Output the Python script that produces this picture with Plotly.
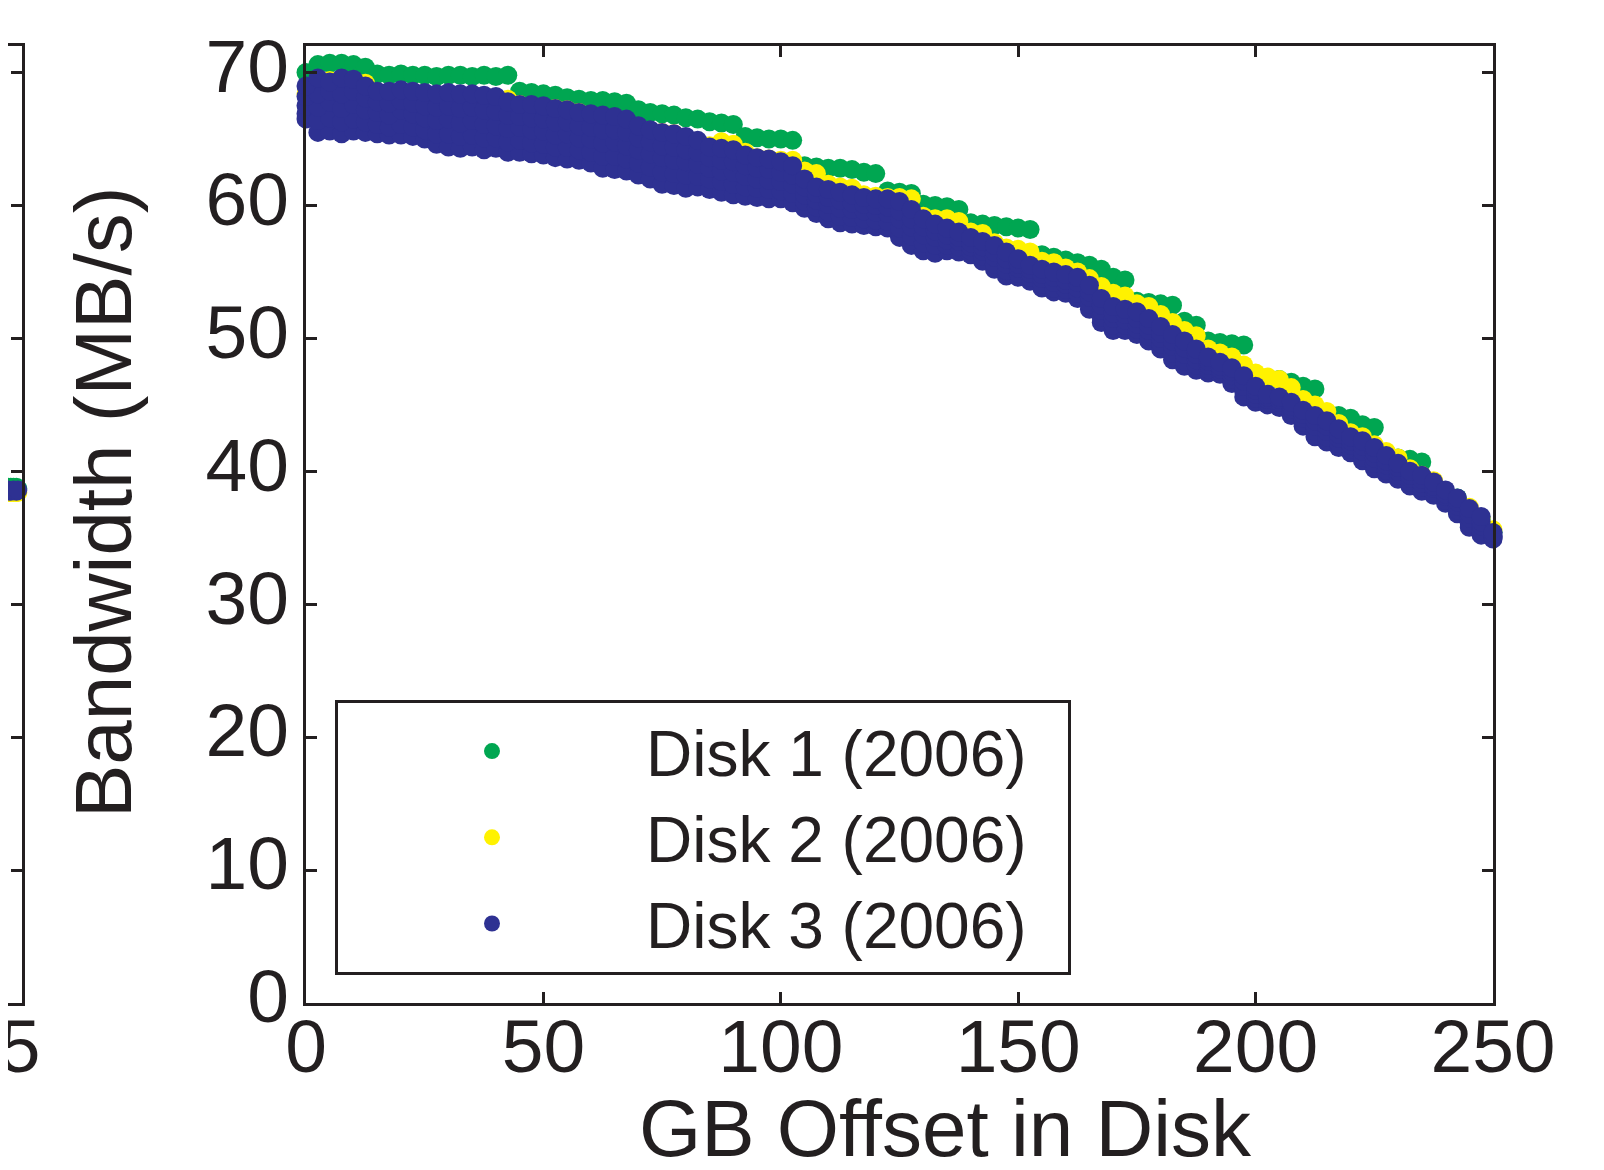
import plotly.graph_objects as go

# ---------------- data ----------------
GB_OFFSET = [
    0, 2.5, 5, 7.5, 10, 12.5, 15, 17.5, 20, 22.5,
    25, 27.5, 30, 32.5, 35, 37.5, 40, 42.5, 45, 47.5,
    50, 52.5, 55, 57.5, 60, 62.5, 65, 67.5, 70, 72.5,
    75, 77.5, 80, 82.5, 85, 87.5, 90, 92.5, 95, 97.5,
    100, 102.5, 105, 107.5, 110, 112.5, 115, 117.5, 120, 122.5,
    125, 127.5, 130, 132.5, 135, 137.5, 140, 142.5, 145, 147.5,
    150, 152.5, 155, 157.5, 160, 162.5, 165, 167.5, 170, 172.5,
    175, 177.5, 180, 182.5, 185, 187.5, 190, 192.5, 195, 197.5,
    200, 202.5, 205, 207.5, 210, 212.5, 215, 217.5, 220, 222.5,
    225, 227.5, 230, 232.5, 235, 237.5, 240, 242.5, 245, 247.5,
    250,
]

DISK1 = [
    70.0, 70.6, 70.7, 70.7, 70.6, 70.4, 69.9, 69.8, 69.9, 69.8,
    69.8, 69.7, 69.8, 69.8, 69.7, 69.8, 69.7, 69.8, 68.6, 68.5,
    68.4, 68.3, 68.1, 68.0, 67.9, 67.9, 67.8, 67.7, 67.2, 67.0,
    66.9, 66.8, 66.6, 66.5, 66.3, 66.2, 66.1, 65.2, 65.1, 65.0,
    65.0, 64.9, 63.0, 62.9, 62.8, 62.8, 62.7, 62.5, 62.4, 61.1,
    61.0, 60.9, 60.1, 60.0, 59.9, 59.7, 58.7, 58.6, 58.5, 58.4,
    58.3, 58.2, 56.3, 56.1, 55.9, 55.7, 55.5, 55.2, 54.6, 54.4,
    52.8, 52.7, 52.6, 52.5, 51.3, 51.0, 49.8, 49.7, 49.6, 49.5,
    47.2, 47.0, 46.9, 46.7, 46.4, 46.2, 44.4, 44.2, 44.0, 43.5,
    43.3, 41.2, 41.0, 40.9, 40.7, 38.5, 38.2, 38.0, 37.0, 36.4,
    35.4,
]

DISK2 = [
    68.4, 69.2, 69.4, 69.5, 69.4, 69.2, 68.5, 68.4, 68.3, 68.3,
    68.3, 68.3, 68.2, 68.3, 68.2, 68.2, 68.1, 68.0, 67.6, 67.5,
    67.4, 67.3, 67.2, 67.0, 66.8, 66.6, 66.4, 66.2, 65.8, 65.6,
    65.5, 65.4, 65.0, 64.6, 64.5, 64.8, 64.6, 64.0, 63.6, 63.5,
    63.4, 63.4, 62.6, 62.4, 61.6, 61.4, 61.3, 60.8, 60.7, 60.6,
    60.6, 60.5, 59.2, 59.0, 59.0, 58.8, 58.0, 57.9, 57.2, 56.8,
    56.7, 56.5, 55.8, 55.7, 55.3, 55.0, 54.5, 53.9, 53.4, 53.2,
    52.6, 52.4, 51.8, 51.2, 50.6, 50.2, 49.2, 48.9, 48.6, 48.0,
    47.4, 47.1, 46.9, 46.3, 45.4, 45.0, 44.5, 43.6, 42.9, 42.6,
    42.0, 41.5, 41.0, 40.2, 39.7, 39.3, 38.4, 37.8, 37.3, 36.5,
    35.6,
]

# Disk 3 forms a wide band: five rows of dots read across the cloud,
# from its upper edge down to its lower edge
DISK3_HIGH = [
    69.0, 69.6, 69.3, 69.6, 69.5, 69.0, 68.6, 68.6, 68.7, 68.6,
    68.5, 68.4, 68.5, 68.4, 68.4, 68.3, 68.2, 67.8, 67.6, 67.6,
    67.5, 67.3, 67.2, 67.0, 66.9, 66.8, 66.7, 66.5, 66.0, 65.7,
    65.5, 65.4, 65.2, 64.9, 64.4, 64.3, 64.2, 63.8, 63.6, 63.5,
    63.3, 63.0, 62.0, 61.4, 61.2, 61.0, 60.8, 60.6, 60.5, 60.5,
    60.3, 59.7, 59.0, 58.6, 58.3, 58.0, 57.6, 57.3, 57.0, 56.5,
    56.0, 55.5, 55.2, 55.0, 54.8, 54.6, 54.0, 53.0, 52.4, 52.2,
    52.0, 51.5, 50.9, 50.3, 49.8, 49.2, 48.6, 48.2, 47.8, 47.2,
    46.4, 45.8, 45.6, 45.2, 44.6, 44.2, 43.8, 43.2, 42.6, 42.3,
    41.8, 41.2, 40.6, 40.0, 39.7, 39.2, 38.6, 38.0, 37.2, 36.6,
    35.4,
]

DISK3_UPPER = [
    68.2, 68.4, 68.6, 68.4, 68.6, 68.1, 67.8, 67.7, 67.9, 67.7,
    67.5, 67.4, 67.5, 67.3, 67.4, 67.2, 67.1, 66.8, 66.7, 66.6,
    66.5, 66.3, 66.3, 66.0, 65.9, 65.7, 65.7, 65.5, 65.1, 64.8,
    64.5, 64.4, 64.2, 64.0, 63.6, 63.4, 63.3, 63.0, 62.8, 62.7,
    62.5, 62.3, 61.4, 60.9, 60.6, 60.4, 60.2, 60.1, 60.0, 59.9,
    59.6, 59.0, 58.4, 58.1, 57.8, 57.6, 57.2, 56.9, 56.5, 56.0,
    55.6, 55.2, 54.8, 54.6, 54.4, 54.2, 53.5, 52.5, 51.9, 51.8,
    51.5, 51.0, 50.4, 49.8, 49.3, 48.8, 48.3, 47.9, 47.5, 46.8,
    46.1, 45.6, 45.4, 44.9, 44.3, 43.8, 43.4, 42.8, 42.3, 41.9,
    41.4, 40.8, 40.3, 39.7, 39.4, 38.9, 38.3, 37.7, 36.8, 36.2,
    35.2,
]

DISK3_MID = [
    67.5, 67.4, 67.8, 67.3, 67.6, 67.2, 67.0, 66.8, 67.2, 66.9,
    66.6, 66.4, 66.5, 66.2, 66.4, 66.1, 66.0, 65.8, 65.9, 65.7,
    65.6, 65.3, 65.4, 65.1, 65.0, 64.7, 64.8, 64.5, 64.2, 63.9,
    63.6, 63.4, 63.3, 63.1, 62.8, 62.6, 62.5, 62.2, 62.0, 61.9,
    61.8, 61.6, 60.8, 60.4, 60.1, 59.8, 59.7, 59.6, 59.5, 59.4,
    59.0, 58.4, 57.8, 57.6, 57.4, 57.3, 56.9, 56.6, 56.1, 55.6,
    55.3, 54.9, 54.5, 54.2, 54.1, 53.8, 53.1, 52.1, 51.5, 51.4,
    51.1, 50.6, 50.0, 49.4, 48.8, 48.4, 48.0, 47.7, 47.2, 46.4,
    45.8, 45.4, 45.2, 44.7, 44.0, 43.4, 43.0, 42.5, 42.0, 41.5,
    41.0, 40.5, 40.0, 39.5, 39.1, 38.7, 38.1, 37.4, 36.5, 35.9,
    35.1,
]

DISK3_LOWER = [
    66.9, 66.4, 66.6, 66.3, 66.5, 66.3, 66.1, 65.9, 66.1, 65.9,
    65.7, 65.4, 65.4, 65.2, 65.3, 65.1, 65.1, 64.8, 64.9, 64.7,
    64.6, 64.4, 64.4, 64.2, 64.0, 63.7, 63.7, 63.5, 63.2, 62.9,
    62.5, 62.4, 62.3, 62.2, 62.0, 61.8, 61.6, 61.4, 61.3, 61.2,
    61.1, 60.9, 60.3, 59.9, 59.5, 59.2, 59.1, 59.0, 58.9, 58.8,
    58.3, 57.7, 57.2, 57.0, 57.0, 56.9, 56.6, 56.2, 55.6, 55.1,
    54.9, 54.6, 54.1, 53.8, 53.7, 53.4, 52.6, 51.6, 51.0, 51.0,
    50.7, 50.2, 49.6, 48.9, 48.3, 48.0, 47.7, 47.5, 46.9, 46.0,
    45.5, 45.2, 45.0, 44.4, 43.7, 43.0, 42.6, 42.1, 41.7, 41.1,
    40.6, 40.1, 39.7, 39.2, 38.8, 38.4, 37.8, 37.1, 36.1, 35.5,
    35.0,
]

DISK3_LOW = [
    66.5, 65.5, 65.6, 65.4, 65.6, 65.5, 65.4, 65.3, 65.3, 65.2,
    65.0, 64.6, 64.4, 64.3, 64.4, 64.2, 64.3, 64.0, 64.0, 63.9,
    63.8, 63.6, 63.5, 63.4, 63.2, 62.8, 62.7, 62.6, 62.3, 62.0,
    61.6, 61.5, 61.3, 61.4, 61.2, 61.0, 60.8, 60.7, 60.6, 60.5,
    60.5, 60.2, 59.8, 59.4, 59.0, 58.7, 58.6, 58.5, 58.4, 58.3,
    57.6, 57.0, 56.6, 56.4, 56.6, 56.5, 56.3, 55.8, 55.2, 54.7,
    54.6, 54.3, 53.8, 53.5, 53.4, 53.0, 52.2, 51.2, 50.6, 50.6,
    50.3, 49.8, 49.2, 48.4, 47.9, 47.6, 47.4, 47.3, 46.6, 45.6,
    45.2, 45.0, 44.8, 44.2, 43.4, 42.6, 42.2, 41.8, 41.4, 40.8,
    40.2, 39.8, 39.4, 38.9, 38.5, 38.2, 37.6, 36.8, 35.8, 35.2,
    34.9,
]

# neighbouring (cut-off) panel on the left: only its last few points are visible
LEFT_X = [24.5, 24.6, 24.7, 24.8, 24.85]
LEFT_DISK1 = [38.8, 38.8, 38.8, 38.8, 38.7]
LEFT_DISK2 = [38.4, 38.4, 38.4, 38.4, 38.4]
LEFT_DISK3 = [38.6, 38.5, 38.6, 38.5, 38.6]

SERIES_NAMES = ["Disk 1 (2006)", "Disk 2 (2006)", "Disk 3 (2006)"]
Y_TICKS = [0, 10, 20, 30, 40, 50, 60, 70]
X_TICKS = [0, 50, 100, 150, 200, 250]

# ---------------- styling ----------------
GREEN = "#00a651"
YELLOW = "#fff200"
BLUE = "#2e3192"
INK = "#231f20"
FONT = "Liberation Sans, Arial, Helvetica, sans-serif"
MS = 19
NBSP = "\u00a0"

# page has an 8px body margin, so the figure is laid out 8px smaller
W, H = 1596, 1162
ML, MR, MT, MB = 0, 111, 38, 167
PW = W - ML - MR
PH = H - MT - MB
PLOT_L = 298

fig = go.Figure()

# main panel
fig.add_trace(go.Scatter(x=GB_OFFSET, y=DISK1, mode="markers", name=SERIES_NAMES[0] + NBSP * 2,
                         marker=dict(color=GREEN, size=MS), cliponaxis=False))
fig.add_trace(go.Scatter(x=GB_OFFSET, y=DISK2, mode="markers", name=SERIES_NAMES[1] + NBSP * 2,
                         marker=dict(color=YELLOW, size=MS), cliponaxis=False))
fig.add_trace(go.Scatter(x=GB_OFFSET * 5,
                         y=DISK3_LOW + DISK3_LOWER + DISK3_MID + DISK3_UPPER + DISK3_HIGH,
                         mode="markers", name=SERIES_NAMES[2] + NBSP * 2,
                         marker=dict(color=BLUE, size=MS), cliponaxis=False))

# left cut-off panel
for ys, col in ((LEFT_DISK1, GREEN), (LEFT_DISK2, YELLOW), (LEFT_DISK3, BLUE)):
    fig.add_trace(go.Scatter(x=LEFT_X, y=ys, mode="markers", showlegend=False,
                             marker=dict(color=col, size=MS), cliponaxis=False,
                             xaxis="x2", yaxis="y2"))

axis_common = dict(showline=True, linecolor=INK, linewidth=3, ticks="inside",
                   ticklen=11, tickwidth=3, tickcolor=INK, showgrid=False,
                   zeroline=False,
                   tickfont=dict(family=FONT, size=75, color=INK))

fig.update_layout(
    width=W, height=H,
    margin=dict(l=ML, r=MR, t=MT, b=MB, autoexpand=False),
    paper_bgcolor="white", plot_bgcolor="white",
    font=dict(family=FONT, color=INK),
    xaxis=dict(domain=[PLOT_L / PW, 1], range=[0, 250], tickvals=X_TICKS,
               mirror="ticks", anchor="y", ticklabelstandoff=-24, **axis_common),
    yaxis=dict(domain=[0, 1], range=[0, 72], tickvals=Y_TICKS,
               mirror="ticks", anchor="x", ticklabelstandoff=-1, ticklabelshift=-7,
               **axis_common),
    xaxis2=dict(domain=[0, 14 / PW], range=[24.5, 25], tickvals=[25], ticktext=["25"],
                ticks="", showline=True, linecolor=INK, linewidth=3, mirror=True,
                showgrid=False, zeroline=False, anchor="y2",
                ticklabelposition="outside left", ticklabeloverflow="allow",
                ticklabelstandoff=-24, ticklabelshift=20,
                tickfont=dict(family=FONT, size=75, color=INK)),
    yaxis2=dict(domain=[0, 1], range=[0, 72], tickvals=Y_TICKS, anchor="x2",
                side="right", showline=True, linecolor=INK, linewidth=3,
                ticks="inside", ticklen=11, tickwidth=3, tickcolor=INK,
                showticklabels=False, showgrid=False, zeroline=False),
    legend=dict(x=327 / PW, y=(H - MB - 692) / PH, xanchor="left", yanchor="top",
                bgcolor="white", bordercolor=INK, borderwidth=3,
                font=dict(family=FONT, size=64, color=INK),
                itemwidth=298, itemsizing="trace", tracegroupgap=0),
    showlegend=True,
    annotations=[
        dict(text="Bandwidth (MB/s)", xref="paper", yref="paper",
             x=95 / PW, y=(H - MB - 495) / PH, xanchor="center", yanchor="middle",
             textangle=-90, showarrow=False, font=dict(family=FONT, size=80, color=INK)),
        dict(text="GB Offset in Disk", xref="paper", yref="paper",
             x=937 / PW, y=-(1120 - (H - MB)) / PH, xanchor="center", yanchor="middle",
             showarrow=False, font=dict(family=FONT, size=80, color=INK)),
    ],
)

fig.write_html("out.html")
